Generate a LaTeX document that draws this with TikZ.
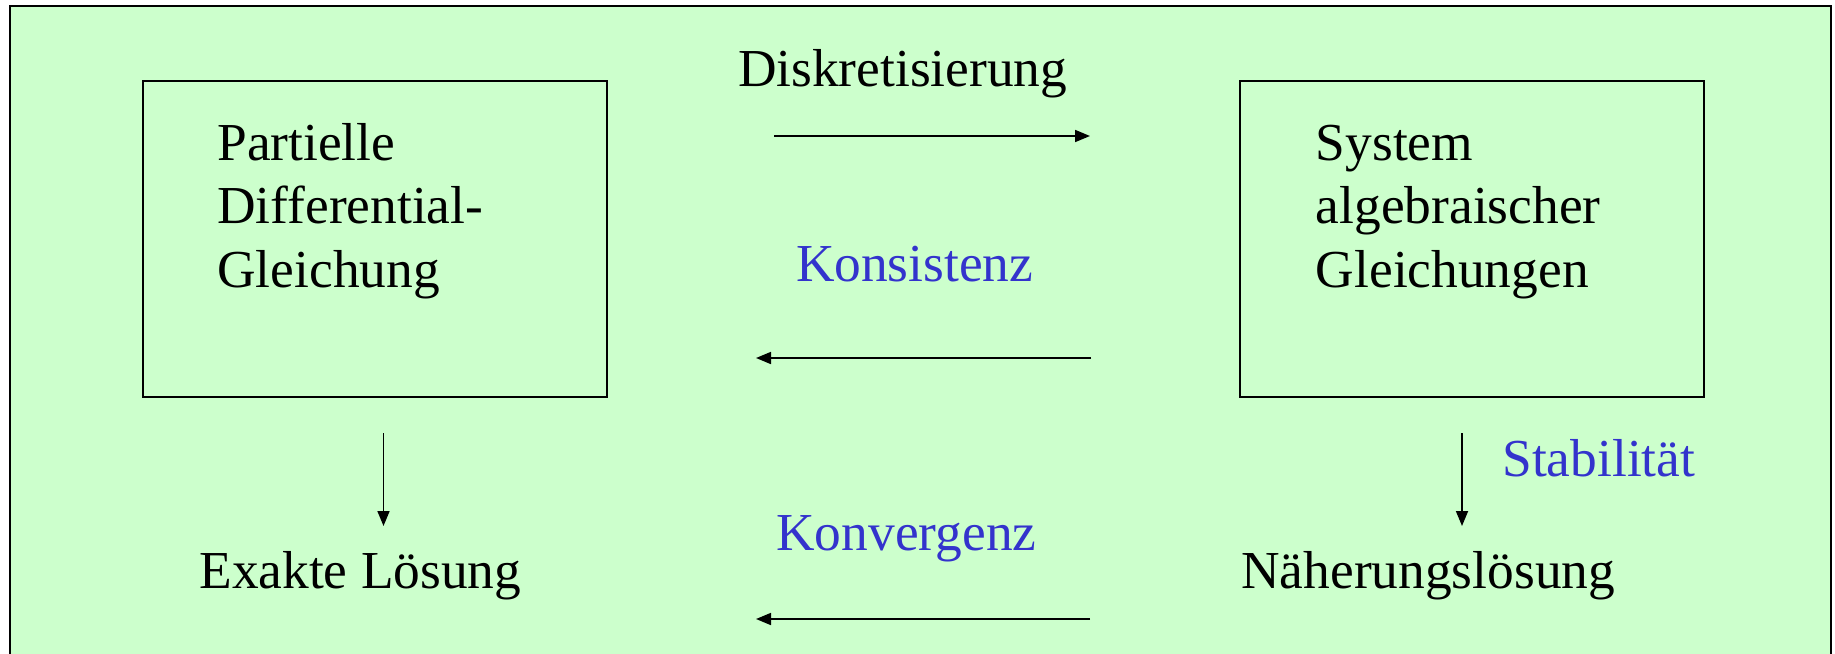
\documentclass[tikz,border=0pt]{standalone}
\usepackage{fontspec}
\setmainfont{Liberation Serif}
\usetikzlibrary{arrows.meta}
\definecolor{bggreen}{RGB}{204,255,204}
\definecolor{labelblue}{RGB}{51,51,204}
\begin{document}
\begin{tikzpicture}[x=0.5pt,y=-0.5pt,
  txt/.style={inner sep=0pt, anchor=base west, font=\fontsize{26.7}{31.75}\selectfont, align=left},
  lbl/.style={txt, text=labelblue},
  frame/.style={draw=black, line width=0.75pt, inner sep=0pt, anchor=north west},
  arr/.style={-{Triangle[length=7.5pt,width=6pt]}, line width=0.85pt}]
\useasboundingbox (0,0) rectangle (1835,653);
\clip (0,0) rectangle (1835,653);
\draw[fill=bggreen, line width=1pt] (10,6) rectangle (1831,680);
\node[frame, minimum width=232pt, minimum height=158pt] (pdebox) at (142,80) {};
\node[frame, minimum width=232pt, minimum height=158pt] (sysbox) at (1239,80) {};
\node[txt] (pde) at (217,287) {Partielle\\Differential-\\Gleichung};
\node[txt] (sys) at (1315.5,287) {System\\algebraischer\\Gleichungen};
\node[txt] (disk) at (737.7,86) {Diskretisierung};
\node[lbl] (kons) at (795.6,281) {Konsistenz};
\node[txt] (exakt) at (199,588) {Exakte Lösung};
\node[lbl] (konv) at (776,550.7) {Konvergenz};
\node[lbl] (stab) at (1502,476.7) {Stabilität};
\node[txt] (naeh) at (1241,588) {Näherungslösung};
\coordinate (d1) at (774,136);
\coordinate (d2) at (1090,136);
\coordinate (k1) at (1091,358);
\coordinate (k2) at (756,358);
\coordinate (v1) at (1090,619);
\coordinate (v2) at (756,619);
\coordinate (e1) at (383.5,433);
\coordinate (e2) at (383.5,526);
\coordinate (s1) at (1462,433);
\coordinate (s2) at (1462,526);
\draw[arr] (d1) -- (d2);
\draw[arr] (k1) -- (k2);
\draw[arr] (v1) -- (v2);
\draw[arr] (e1) -- (e2);
\draw[arr] (s1) -- (s2);
\end{tikzpicture}
\end{document}
